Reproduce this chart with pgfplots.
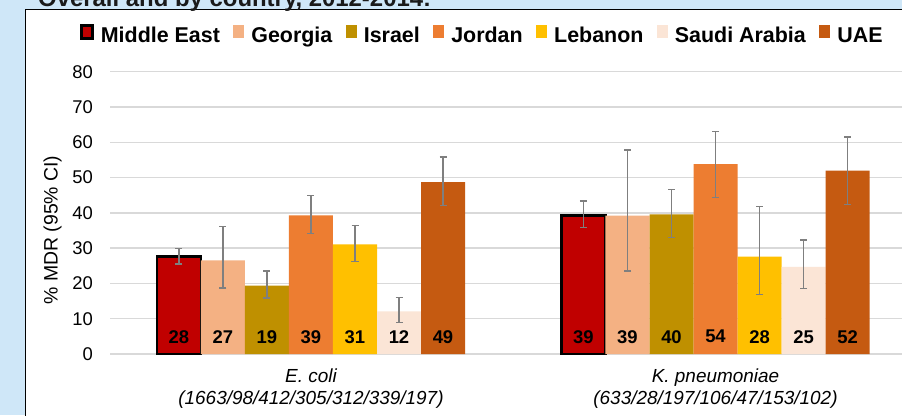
\documentclass[border=0pt]{standalone}
\usepackage{pgfplots}
\pgfplotsset{compat=1.18}
\usepackage{fontspec}
\setmainfont{Liberation Sans}
\definecolor{bgblue}{HTML}{CFE7F8}
\definecolor{mered}{HTML}{C00000}
\definecolor{georgia}{HTML}{F4B183}
\definecolor{israel}{HTML}{BF9000}
\definecolor{jordan}{HTML}{ED7D31}
\definecolor{lebanon}{HTML}{FFC000}
\definecolor{saudi}{HTML}{FBE5D6}
\definecolor{uae}{HTML}{C55A11}
\definecolor{gridgray}{HTML}{D9D9D9}
\definecolor{errgray}{HTML}{7F7F7F}
\definecolor{titlecol}{HTML}{1A1A1A}
\pgfplotsset{
  mybar/.style={
    fill=#1,
    error bars/y dir=both,
    error bars/y explicit,
    error bars/error bar style={errgray, line width=1.3bp},
    error bars/error mark options={errgray, rotate=90, mark size=3.5bp, line width=1.3bp},
    nodes near coords,
    point meta=explicit symbolic,
    visualization depends on={value \thisrow{y} \as \rawy},
    nodes near coords style={font=\bfseries\fontsize{18.5}{20}\selectfont, text=black, anchor=center, inner sep=0pt, shift={(axis direction cs:0,{4.9-\rawy})}},
  },
}
\begin{document}
\begin{tikzpicture}[x=1bp,y=1bp]
\path[use as bounding box] (0,0) rectangle (902,415);
\fill[bgblue] (0,0) rectangle (902,415);
\filldraw[fill=white,draw=black,line width=1bp] (25,-10) rectangle (920,405.5);
\node[anchor=base west, inner sep=0pt, font=\bfseries\fontsize{24}{28}\selectfont, text=titlecol] at (38,408.5) {Overall and by country, 2012-2014:};
\begin{axis}[
  at={(110bp,61bp)}, anchor=south west,
  scale only axis, width=792bp, height=282.3bp,
  xmin=-0.4969, xmax=1.4611, ymin=0, ymax=80,
  ybar=0pt, bar width=44bp,
  axis line style={draw=none},
  major tick length=0pt,
  ymajorgrids, grid style={color=gridgray, line width=1.3bp},
  ytick={0,10,...,80},
  yticklabels={0,10,20,30,40,50,60,70,80},
  yticklabel style={font=\fontsize{18.5}{20}\selectfont, text=black, anchor=east, inner sep=0pt, xshift=-17bp},
  xtick={0,1},
  xticklabels={{E. coli\\(1663/98/412/305/312/339/197)},{K. pneumoniae\\(633/28/197/106/47/153/102)}},
  xticklabel style={align=center, font=\itshape\fontsize{19}{21.6}\selectfont, text=black, anchor=north, inner sep=0pt, yshift=-15bp},
  ylabel={\% MDR (95\% CI)},
  every axis y label/.style={at={(axis description cs:-0.0726,0.439)}, rotate=90, anchor=center, font=\fontsize{19.5}{22}\selectfont},
  legend columns=7,
  legend style={at={(axis description cs:0.4703,1.130)}, anchor=center, draw=none, fill=none, font=\bfseries\fontsize{21.5}{24}\selectfont,
    /tikz/every odd column/.append style={column sep=5bp},
    /tikz/every even column/.append style={column sep=11.5bp}},
  legend image code/.code={\path[#1] (0bp,-3bp) rectangle (11bp,10bp);},
]
\addplot[mybar=mered, draw=black, line width=2.5bp] table[x=x,y=y,y error plus=ep,y error minus=em,meta=lab] {
x y ep em lab
0 27.6 2.3 2.1 28
1 39.3 4.1 3.5 39
};
\addplot[mybar=georgia, draw=none] table[x=x,y=y,y error plus=ep,y error minus=em,meta=lab] {
x y ep em lab
0 26.5 9.7 7.8 27
1 39.2 18.6 15.7 39
};
\addplot[mybar=israel, draw=none] table[x=x,y=y,y error plus=ep,y error minus=em,meta=lab] {
x y ep em lab
0 19.4 4.1 3.5 19
1 39.6 7.0 6.5 40
};
\addplot[mybar=jordan, draw=none] table[x=x,y=y,y error plus=ep,y error minus=em,meta=lab] {
x y ep em lab
0 39.3 5.7 5.1 39
1 53.8 9.2 9.4 54
};
\addplot[mybar=lebanon, draw=none] table[x=x,y=y,y error plus=ep,y error minus=em,meta=lab] {
x y ep em lab
0 31.1 5.4 4.9 31
1 27.6 14.3 10.8 28
};
\addplot[mybar=saudi, draw=none] table[x=x,y=y,y error plus=ep,y error minus=em,meta=lab] {
x y ep em lab
0 12.1 3.9 3.1 12
1 24.7 7.6 6.1 25
};
\addplot[mybar=uae, draw=none] table[x=x,y=y,y error plus=ep,y error minus=em,meta=lab] {
x y ep em lab
0 48.7 7.1 6.7 49
1 52.0 9.5 9.6 52
};
\legend{Middle East, Georgia, Israel, Jordan, Lebanon, Saudi Arabia, UAE}
\end{axis}
\end{tikzpicture}
\end{document}
